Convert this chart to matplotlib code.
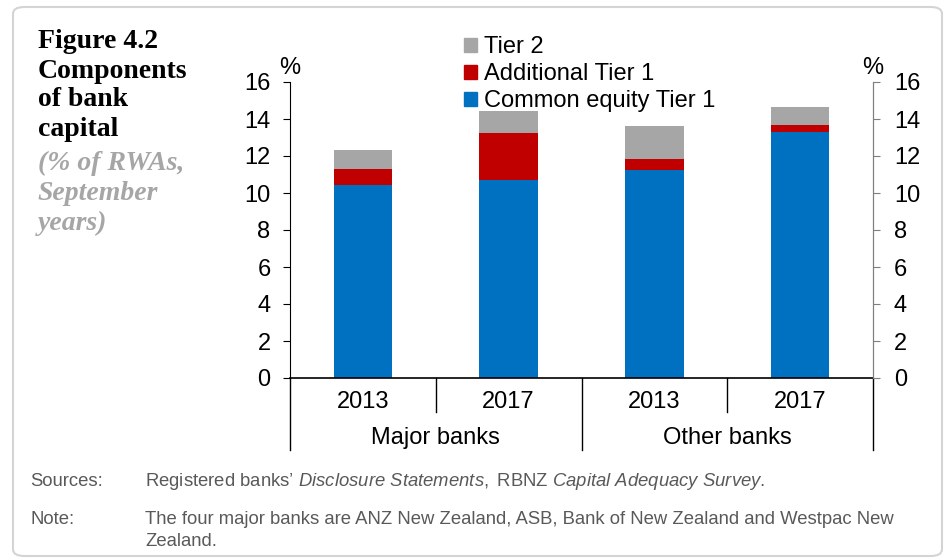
import numpy as np
import matplotlib
matplotlib.use("Agg")
import matplotlib.pyplot as plt
from matplotlib.patches import Patch, FancyBboxPatch
from matplotlib.transforms import blended_transform_factory

# Data (% of RWAs)
years = ["2013", "2017", "2013", "2017"]
groups = ["Major banks", "Other banks"]
cet1 = [10.45, 10.7, 11.25, 13.3]
at1 = [0.85, 2.55, 0.6, 0.4]
tier2 = [1.0, 1.2, 1.75, 0.95]

blue = "#0070C0"
red = "#C00000"
grey = "#A6A6A6"

plt.rcParams["font.family"] = ["Liberation Sans", "DejaVu Sans"]
plt.rcParams["mathtext.fontset"] = "custom"
plt.rcParams["mathtext.rm"] = "Liberation Sans"
plt.rcParams["mathtext.it"] = "Liberation Sans:italic"

W, H = 946, 560
fig = plt.figure(figsize=(W / 100, H / 100), dpi=100)

# rounded frame
fig.patches.append(FancyBboxPatch((13 / W, 1 - 556 / H), 929 / W, 549 / H,
                                  boxstyle="round,pad=0,rounding_size=0.012",
                                  transform=fig.transFigure, fc="none",
                                  ec="#d4d4d4", lw=1.5))

ax = fig.add_axes([290 / W, 1 - 378 / H, 583 / W, 296 / H])
x = np.arange(len(years))
bw = 0.4
ax.bar(x, cet1, bw, color=blue)
ax.bar(x, at1, bw, bottom=cet1, color=red)
ax.bar(x, tier2, bw, bottom=np.add(cet1, at1), color=grey)

fs = 17
ax.set_xlim(-0.5, len(years) - 0.5)
ax.set_ylim(0, 16)
ax.set_yticks(range(0, 17, 2))
ax.tick_params(axis="y", labelsize=fs, length=5, direction="out", pad=9)
ax.spines["top"].set_visible(False)
ax.spines["bottom"].set_visible(False)
ax.spines["right"].set_color("#7f7f7f")

ax2 = ax.twinx()
ax2.set_ylim(0, 16)
ax2.set_yticks(range(0, 17, 2))
ax2.tick_params(axis="y", labelsize=fs, length=5, direction="out", pad=10,
                color="#7f7f7f")
for s in ["top", "bottom", "left"]:
    ax2.spines[s].set_visible(False)
ax2.spines["right"].set_color("#7f7f7f")

# x axis: line at zero, year labels, group labels with separators
ax.set_xticks([])
tr = blended_transform_factory(ax.transData, ax.transAxes)
ax.plot([-0.5, len(years) - 0.5], [0, 0], color="black", lw=1.2, clip_on=False)
for i in range(len(years) + 1):
    xb = i - 0.5
    outer = (i % 2 == 0)
    ax.plot([xb, xb], [0, -0.243 if outer else -0.115], transform=tr,
            color="black", lw=1, clip_on=False)
for i, yr in enumerate(years):
    ax.text(i, -0.081, yr, transform=tr, ha="center", va="center", fontsize=fs)
for g, name in enumerate(groups):
    ax.text(2 * g + 0.5, -0.203, name, transform=tr, ha="center", va="center",
            fontsize=fs)

ax.text(0, 1.047, "%", transform=ax.transAxes, ha="center", va="center", fontsize=fs)
ax.text(1, 1.047, "%", transform=ax.transAxes, ha="center", va="center", fontsize=fs)

handles = [Patch(color=grey), Patch(color=red), Patch(color=blue)]
labels = ["Tier 2", "Additional Tier 1", "Common equity Tier 1"]
fig.legend(handles, labels, loc="upper left", bbox_to_anchor=(464 / W, 1 - 36 / H),
           frameon=False, fontsize=fs, handlelength=0.55, handleheight=0.55,
           handletextpad=0.3, labelspacing=0.22, borderaxespad=0, borderpad=0)

# title block
title_lines = ["Figure 4.2", "Components", "of bank", "capital"]
for k, t in enumerate(title_lines):
    fig.text(38 / W, 1 - (42 + 29 * k) / H, t, fontsize=20, fontweight="bold",
             family="Liberation Serif", va="center", ha="left", color="black")
sub_lines = ["(% of RWAs,", "September", "years)"]
for k, t in enumerate(sub_lines):
    fig.text(38 / W, 1 - (163 + 30 * k) / H, t, fontsize=20, fontweight="bold",
             style="italic", family="Liberation Serif", va="center", ha="left",
             color="#a6a6a6")

# footnotes
fc = "#595959"
ffs = 13.3
fig.text(30 / W, 1 - 482 / H, "Sources:", fontsize=ffs, color=fc, va="center")
fig.text(145 / W, 1 - 482 / H,
         "Registered banks\u2019 $\\it{Disclosure\\ Statements,}$ RBNZ $\\it{Capital\\ Adequacy\\ Survey.}$",
         fontsize=ffs, color=fc, va="center")
fig.text(30 / W, 1 - 519 / H, "Note:", fontsize=ffs, color=fc, va="center")
fig.text(145 / W, 1 - 519 / H,
         "The four major banks are ANZ New Zealand, ASB, Bank of New Zealand and Westpac New",
         fontsize=ffs, color=fc, va="center")
fig.text(145 / W, 1 - 541 / H, "Zealand.", fontsize=ffs, color=fc, va="center")

fig.savefig("out.png", dpi=100)
